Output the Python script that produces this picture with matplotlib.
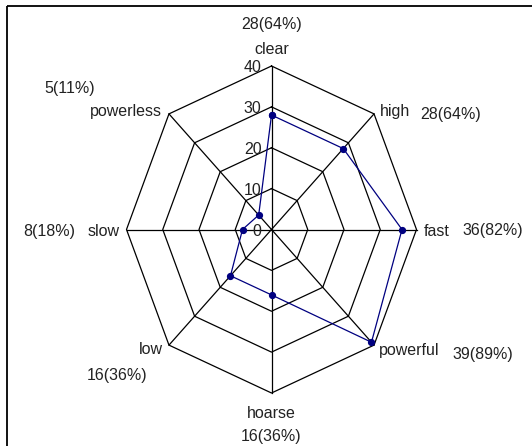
import numpy as np
import matplotlib
matplotlib.use("Agg")
import matplotlib.pyplot as plt
from matplotlib.patches import Rectangle

# ---- data ----
categories = ["clear", "high", "fast", "powerful", "hoarse", "low", "slow", "powerless"]
values = [28, 28, 36, 39, 16, 16, 8, 5]
n_total = 44
ring_ticks = [0, 10, 20, 30, 40]
r_max = 40

# ---- layout / style (pixel space) ----
W, H = 532, 446
cx, cy = 271.5, 229.5
Rx, Ry = 145.0, 163.5
FS = 11.5
FONT = "Liberation Sans"

# label offsets (px) relative to outer vertex: (dx, dy, ha) for name and percent
name_off = [(0, -17, "center"), (6, -2, "left"), (7, 2, "left"), (5, 5, "left"),
            (0, 20, "center"), (-6, 4, "right"), (-7, 2, "right"), (-7, -2, "right")]
pct_off = [(0, -41, "center"), (46, 0.6, "left"), (46, 1.5, "left"), (78, 9, "left"),
           (0, 44, "center"), (-51.5, 30.6, "center"), (-51, 2, "right"), (-99, -25, "center")]

fig = plt.figure(figsize=(W / 100, H / 100), dpi=100)
ax = fig.add_axes([0, 0, 1, 1])
ax.set_xlim(0, W)
ax.set_ylim(H, 0)
ax.axis("off")

n = len(categories)
theta = np.arange(n) * 2 * np.pi / n


def to_xy(r, th):
    return cx + (r / r_max) * Rx * np.sin(th), cy - (r / r_max) * Ry * np.cos(th)


# frame
ax.add_patch(Rectangle((7, 6), 700, 700, fill=False, ec="black", lw=1.3, clip_on=False))

# rings
th_closed = np.append(theta, theta[0])
for r in ring_ticks[1:]:
    x, y = to_xy(r, th_closed)
    ax.plot(x, y, color="black", lw=0.9, zorder=1)

# spokes
for th in theta:
    x, y = to_xy(np.array([0, r_max]), th)
    ax.plot(x, y, color="black", lw=0.9, zorder=1)

# tick labels
for r in ring_ticks:
    x, y = to_xy(r, 0)
    ax.text(x - 10, y + 2, str(r), ha="right", va="center", fontsize=FS,
            family=FONT, color="#222222", zorder=3)

# series
vals = np.array(values, dtype=float)
x, y = to_xy(np.append(vals, vals[0]), th_closed)
ax.plot(x, y, color="#000080", lw=0.9, marker="o", markersize=4.2,
        markerfacecolor="#000080", markeredgecolor="#000080", zorder=4)

# category + percentage labels
for i, (cat, v) in enumerate(zip(categories, values)):
    vx, vy = to_xy(r_max, theta[i])
    dx, dy, ha = name_off[i]
    ax.text(vx + dx, vy + dy, cat, ha=ha, va="center", fontsize=FS, family=FONT,
            color="#222222")
    pdx, pdy, pha = pct_off[i]
    pct = int(round(v / n_total * 100))
    ax.text(vx + pdx, vy + pdy, f"{v}({pct}%)", ha=pha, va="center", fontsize=FS,
            family=FONT, color="#222222")

fig.savefig("out.png", dpi=100)
